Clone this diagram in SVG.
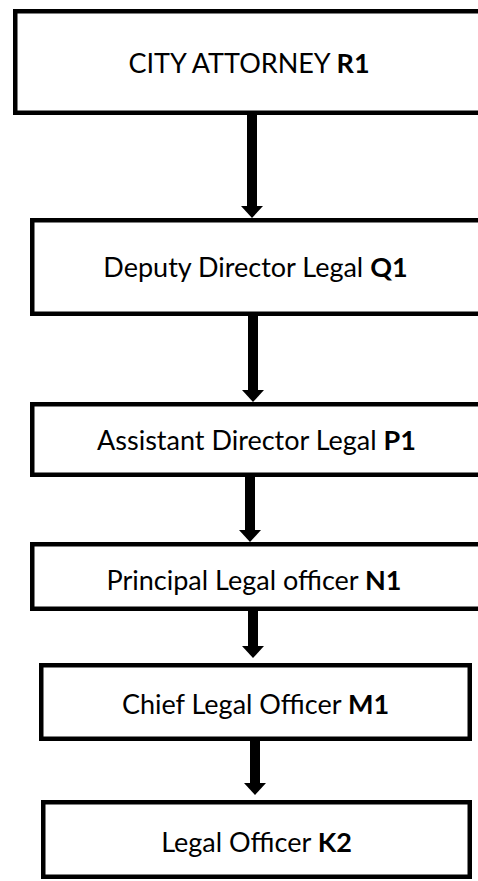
<svg xmlns="http://www.w3.org/2000/svg" width="478" height="881" viewBox="0 0 478 881">
  <style>
    .box { fill: #ffffff; stroke: #000000; stroke-width: 4.5; }
    .label { font-family: "Lato", "Open Sans", "Liberation Sans", sans-serif; font-size: 27px; fill: #000000; text-anchor: middle; }
    .code { font-weight: bold; }
    .shaft { stroke: #000000; stroke-width: 10; }
    .head { fill: #000000; }
  </style>
  <rect width="478" height="881" fill="#ffffff"/>

  <!-- reporting lines, top to bottom -->
  <g id="connectors">
    <g id="edge-r1-q1">
      <line class="shaft" x1="252" y1="115" x2="252" y2="207"/>
      <polygon class="head" points="241,206 263,206 252,218"/>
    </g>
    <g id="edge-q1-p1">
      <line class="shaft" x1="253" y1="316" x2="253" y2="391"/>
      <polygon class="head" points="242,390 264,390 253,402"/>
    </g>
    <g id="edge-p1-n1">
      <line class="shaft" x1="250" y1="477" x2="250" y2="531"/>
      <polygon class="head" points="239,530 261,530 250,542"/>
    </g>
    <g id="edge-n1-m1">
      <line class="shaft" x1="253" y1="611" x2="253" y2="647"/>
      <polygon class="head" points="242,646 264,646 253,658"/>
    </g>
    <g id="edge-m1-k2">
      <line class="shaft" x1="255" y1="741" x2="255" y2="784"/>
      <polygon class="head" points="244,783 266,783 255,795"/>
    </g>
  </g>

  <g id="node-r1">
    <rect class="box" x="15.25" y="11.25" width="480" height="101.5"/>
    <text class="label" x="249" y="73" font-size="28">CITY ATTORNEY <tspan class="code">R1</tspan></text>
  </g>

  <g id="node-q1">
    <rect class="box" x="32.25" y="220.25" width="460" height="93.5"/>
    <text class="label" x="255.5" y="277">Deputy Director Legal <tspan class="code">Q1</tspan></text>
  </g>

  <g id="node-p1">
    <rect class="box" x="32.25" y="404.25" width="460" height="70.5"/>
    <text class="label" x="256.5" y="450">Assistant Director Legal <tspan class="code">P1</tspan></text>
  </g>

  <g id="node-n1">
    <rect class="box" x="32.25" y="544.25" width="460" height="64.5"/>
    <text class="label" x="254" y="590">Principal Legal officer <tspan class="code">N1</tspan></text>
  </g>

  <g id="node-m1">
    <rect class="box" x="41.25" y="665.25" width="428.5" height="73.5"/>
    <text class="label" x="255.5" y="714">Chief Legal Officer <tspan class="code">M1</tspan></text>
  </g>

  <g id="node-k2">
    <rect class="box" x="43.25" y="802.25" width="426.5" height="74.5"/>
    <text class="label" x="256.5" y="852">Legal Officer <tspan class="code">K2</tspan></text>
  </g>
</svg>
